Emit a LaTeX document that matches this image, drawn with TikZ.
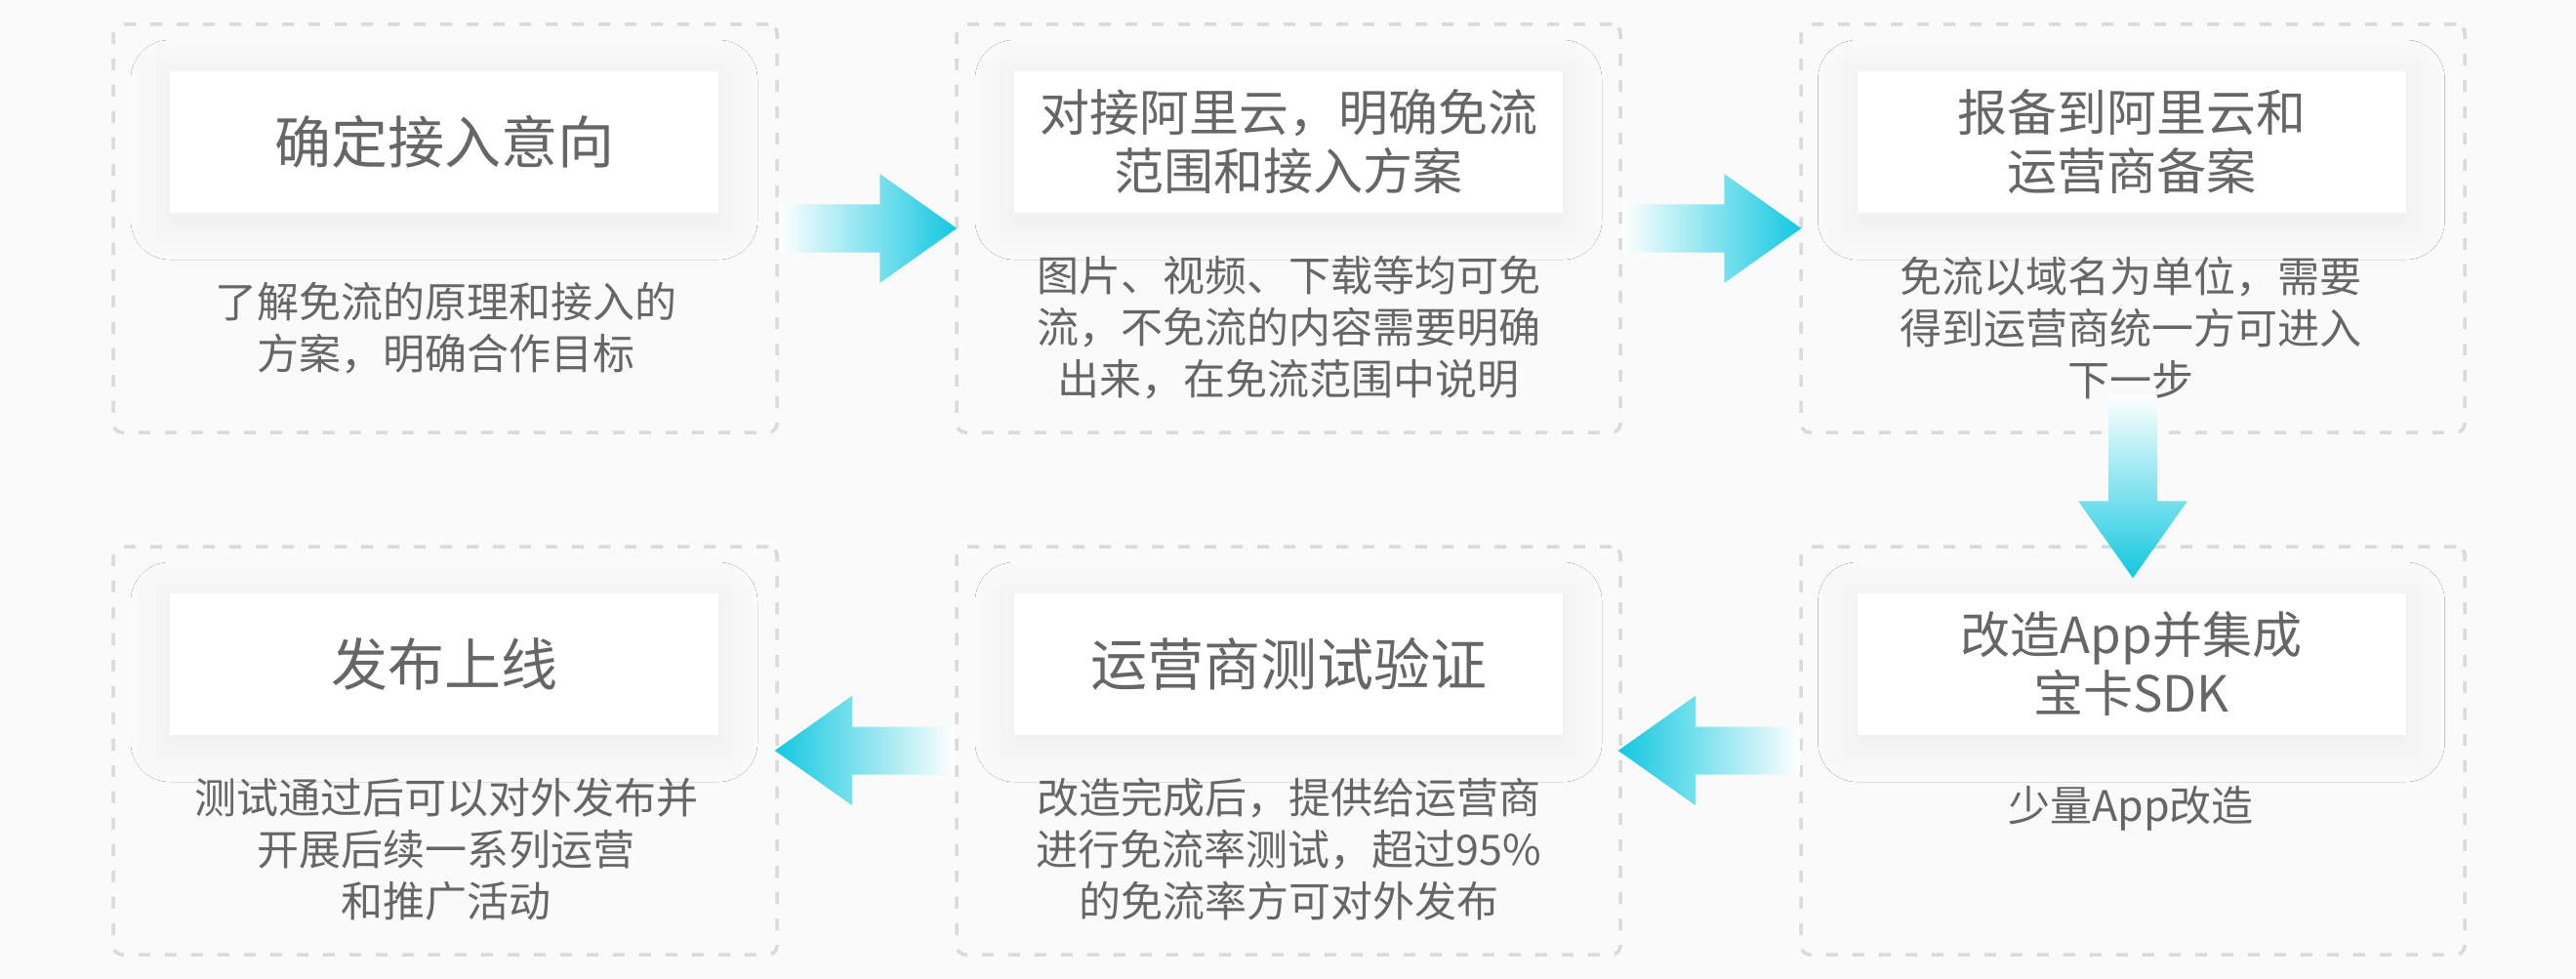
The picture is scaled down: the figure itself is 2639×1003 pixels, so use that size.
\documentclass[tikz,border=0pt]{standalone}
\usepackage{fontspec}
\setmainfont{Noto Sans CJK SC}
\usetikzlibrary{shadows.blur,calc}
\definecolor{bg}{HTML}{FAFAFA}
\definecolor{dashc}{HTML}{DADADA}
\definecolor{txt}{HTML}{666666}
\definecolor{arr}{HTML}{12C8E0}
\tikzset{
  outerbox/.style={draw=dashc, line width=3.5pt, dash pattern=on 12pt off 15pt,
    rounded corners=9pt, minimum width=680pt, minimum height=418pt, inner sep=0pt},
  titlebox/.style={fill=white, minimum width=562pt, minimum height=145pt, inner sep=0pt,
    text=txt, align=center,
    blur shadow={shadow xshift=0pt, shadow yshift=-8pt, shadow blur radius=40pt, shadow opacity=6, shadow blur steps=12}},
  bigtitle/.style={font=\fontsize{58}{68}\selectfont},
  twotitle/.style={font=\fontsize{51}{60}\selectfont},
  bodytext/.style={text=txt, align=center, font=\fontsize{43}{53}\selectfont, inner sep=0pt},
}
\begin{document}
\begin{tikzpicture}[x=1pt,y=-1pt]
\fill[bg] (0,0) rectangle (2639,1003);
\useasboundingbox (0,0) rectangle (2639,1003);

% outer dashed boxes
\node[outerbox] (b1) at (456,234) {};
\node[outerbox] (b2) at (1320,234) {};
\node[outerbox] (b3) at (2185,234) {};
\node[outerbox] (b4) at (456,769) {};
\node[outerbox] (b5) at (1320,769) {};
\node[outerbox] (b6) at (2185,769) {};

% title boxes
\node[titlebox,bigtitle] (t1) at (455,145.5) {确定接入意向};
\node[titlebox,twotitle] (t2) at (1320,145.5) {对接阿里云，明确免流\\范围和接入方案};
\node[titlebox,twotitle] (t3) at (2183.5,145.5) {报备到阿里云和\\运营商备案};
\node[titlebox,bigtitle] (t4) at (455,680.5) {发布上线};
\node[titlebox,bigtitle] (t5) at (1320,680.5) {运营商测试验证};
\node[titlebox,twotitle] (t6) at (2183.5,680.5) {改造App并集成\\宝卡SDK};

% body texts
\node[bodytext] (d1) at (457,336) {了解免流的原理和接入的\\方案，明确合作目标};
\node[bodytext] (d2) at (1320,336) {图片、视频、下载等均可免\\流，不免流的内容需要明确\\出来，在免流范围中说明};
\node[bodytext] (d3) at (2183,336) {免流以域名为单位，需要\\得到运营商统一方可进入\\下一步};
\node[bodytext] (d4) at (457,870) {测试通过后可以对外发布并\\开展后续一系列运营\\和推广活动};
\node[bodytext] (d5) at (1320,870) {改造完成后，提供给运营商\\进行免流率测试，超过95\%\\的免流率方可对外发布};
\node[bodytext] (d6) at (2183,828) {少量App改造};

% right arrows (row 1)
\shade[left color=white, right color=arr]
  let \p1=(b1.east), \p2=(b2.west) in
  (\x1,\y1+24.5pt) -- (\x2-77pt,\y1+24.5pt) -- (\x2-77pt,\y1+56pt) -- (\x2+2pt,\y1)
  -- (\x2-77pt,\y1-56pt) -- (\x2-77pt,\y1-24.5pt) -- (\x1,\y1-24.5pt) -- cycle;
\shade[left color=white, right color=arr]
  let \p1=(b2.east), \p2=(b3.west) in
  (\x1,\y1+24.5pt) -- (\x2-77pt,\y1+24.5pt) -- (\x2-77pt,\y1+56pt) -- (\x2+2pt,\y1)
  -- (\x2-77pt,\y1-56pt) -- (\x2-77pt,\y1-24.5pt) -- (\x1,\y1-24.5pt) -- cycle;

% down arrow
\shade[top color=white, bottom color=arr]
  let \p1=(b3.south), \p2=(b6.north) in
  (\x1-25pt,\y1+40pt) -- (\x1-25pt,\y2+45pt) -- (\x1-56pt,\y2+45pt) -- (\x1,\y2-34pt)
  -- (\x1+56pt,\y2+45pt) -- (\x1+25pt,\y2+45pt) -- (\x1+25pt,\y1+40pt) -- cycle;

% left arrows (row 2)
\shade[left color=arr, right color=white]
  let \p1=(b5.west), \p2=(b4.east) in
  (\x1,\y1+24.5pt) -- (\x2+75pt,\y1+24.5pt) -- (\x2+75pt,\y1+56pt) -- (\x2-4pt,\y1)
  -- (\x2+75pt,\y1-56pt) -- (\x2+75pt,\y1-24.5pt) -- (\x1,\y1-24.5pt) -- cycle;
\shade[left color=arr, right color=white]
  let \p1=(b6.west), \p2=(b5.east) in
  (\x1,\y1+24.5pt) -- (\x2+75pt,\y1+24.5pt) -- (\x2+75pt,\y1+56pt) -- (\x2-4pt,\y1)
  -- (\x2+75pt,\y1-56pt) -- (\x2+75pt,\y1-24.5pt) -- (\x1,\y1-24.5pt) -- cycle;
\end{tikzpicture}
\end{document}
